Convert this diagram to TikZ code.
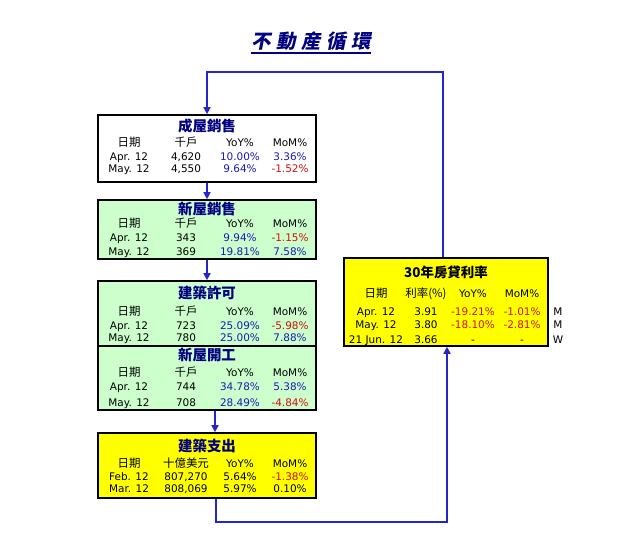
\documentclass[tikz,border=0pt]{standalone}
\usepackage{fontspec}
\setmainfont{DejaVu Sans}
\newfontfamily\cjk{Noto Sans CJK TC}
\newfontfamily\headcjk{Noto Sans CJK TC}[FakeSlant=0.2, LetterSpace=28]
\usetikzlibrary{arrows.meta}

\definecolor{navy}{HTML}{000080}
\definecolor{flowblue}{HTML}{2626C8}
\definecolor{posblue}{HTML}{1A1AB4}
\definecolor{negred}{HTML}{D01010}
\definecolor{paleg}{HTML}{CCFFCC}
\definecolor{yel}{HTML}{FFFF00}

\begin{document}
\begin{tikzpicture}[
    x=1bp, y=-1bp,
    box/.style={rectangle, draw=black, line width=1.6bp, minimum width=218bp, inner sep=0pt},
    ttl/.style={anchor=base, inner sep=0pt, text=navy, font=\cjk\bfseries\fontsize{14.5}{14.5}\selectfont},
    hdc/.style={anchor=base, inner sep=0pt, font=\cjk\fontsize{11.5}{11.5}\selectfont},
    cell/.style={anchor=base, inner sep=0pt, font=\fontsize{10.5}{10.5}\selectfont},
    upval/.style={cell, text=posblue},
    downval/.style={cell, text=negred},
    link/.style={draw=flowblue, line width=1.6bp},
    flow/.style={link, -{Triangle[length=7bp,width=7bp]}}
]
\useasboundingbox (0,0) rectangle (619,560);

% Title
\node[anchor=base, inner sep=0pt, text=navy, font=\headcjk\bfseries\fontsize{19.5}{19.5}\selectfont] (title) at (311,49) {不動産循環};
\draw[navy, line width=1.4bp] ([yshift=-1.5bp]title.south west) -- ([yshift=-1.5bp]title.south east);

% Boxes
\node[box, fill=white, minimum height=67bp] (sold) at (207,148.5) {};
\node[box, fill=paleg, minimum height=59bp] (newsold) at (207,229.5) {};
\node[box, fill=paleg, minimum height=65bp] (permit) at (207,313.5) {};
\node[box, fill=paleg, minimum height=64bp] (starts) at (207,378) {};
\node[box, fill=yel, minimum height=65bp] (spend) at (207,465.5) {};
\node[box, fill=yel, minimum width=204bp, minimum height=88bp] (rate) at (446,302) {};

% Box titles
\node[ttl] (soldt) at (207,132) {成屋銷售};
\node[ttl] (newsoldt) at (207,215) {新屋銷售};
\node[ttl] (permitt) at (207,298) {建築許可};
\node[ttl] (startst) at (207,360) {新屋開工};
\node[ttl] (spendt) at (207,451) {建築支出};
\node[ttl, text=black, font=\cjk\bfseries\fontsize{13.5}{13.5}\selectfont] (ratet) at (446,277) {30年房貸利率};

% Column heads
\foreach \b/\y/\u in {sold/147/千戶, newsold/228/千戶, permit/315/千戶, starts/376/千戶, spend/467/十億美元} {
    \node[hdc] (\b h1) at (129,\y) {日期};
    \node[hdc] (\b h2) at (186,\y) {\u};
    \node[cell] (\b h3) at (240,\y) {YoY\%};
    \node[cell] (\b h4) at (290,\y) {MoM\%};
}
\node[hdc] (rateh1) at (376,297) {日期};
\node[hdc] (rateh2) at (426,297) {利率(\%)};
\node[cell] (rateh3) at (473,297) {YoY\%};
\node[cell] (rateh4) at (522,297) {MoM\%};

% Existing home sales
\node[cell] (sold11) at (129,161) {Apr. 12};
\node[cell] (sold12) at (186,161) {4,620};
\node[upval] (sold13) at (240,161) {10.00\%};
\node[upval] (sold14) at (290,161) {3.36\%};
\node[cell] (sold21) at (129,173) {May. 12};
\node[cell] (sold22) at (186,173) {4,550};
\node[upval] (sold23) at (240,173) {9.64\%};
\node[downval] (sold24) at (290,173) {-1.52\%};

% New home sales
\node[cell] (newsold11) at (129,242) {Apr. 12};
\node[cell] (newsold12) at (186,242) {343};
\node[upval] (newsold13) at (240,242) {9.94\%};
\node[downval] (newsold14) at (290,242) {-1.15\%};
\node[cell] (newsold21) at (129,255) {May. 12};
\node[cell] (newsold22) at (186,255) {369};
\node[upval] (newsold23) at (240,255) {19.81\%};
\node[upval] (newsold24) at (290,255) {7.58\%};

% Building permits
\node[cell] (permit11) at (129,329) {Apr. 12};
\node[cell] (permit12) at (186,329) {723};
\node[upval] (permit13) at (240,329) {25.09\%};
\node[downval] (permit14) at (290,329) {-5.98\%};
\node[cell] (permit21) at (129,341) {May. 12};
\node[cell] (permit22) at (186,341) {780};
\node[upval] (permit23) at (240,341) {25.00\%};
\node[upval] (permit24) at (290,341) {7.88\%};

% Housing starts
\node[cell] (starts11) at (129,390) {Apr. 12};
\node[cell] (starts12) at (186,390) {744};
\node[upval] (starts13) at (240,390) {34.78\%};
\node[upval] (starts14) at (290,390) {5.38\%};
\node[cell] (starts21) at (129,406) {May. 12};
\node[cell] (starts22) at (186,406) {708};
\node[upval] (starts23) at (240,406) {28.49\%};
\node[downval] (starts24) at (290,406) {-4.84\%};

% Construction spending
\node[cell] (spend11) at (129,480) {Feb. 12};
\node[cell] (spend12) at (186,480) {807,270};
\node[cell] (spend13) at (240,480) {5.64\%};
\node[downval] (spend14) at (290,480) {-1.38\%};
\node[cell] (spend21) at (129,492) {Mar. 12};
\node[cell] (spend22) at (186,492) {808,069};
\node[cell] (spend23) at (240,492) {5.97\%};
\node[cell] (spend24) at (290,492) {0.10\%};

% Mortgage rate
\node[cell] (rate11) at (376,315) {Apr. 12};
\node[cell] (rate12) at (426,315) {3.91};
\node[downval] (rate13) at (473,315) {-19.21\%};
\node[downval] (rate14) at (522,315) {-1.01\%};
\node[cell] (rate15) at (558,315) {M};
\node[cell] (rate21) at (376,328) {May. 12};
\node[cell] (rate22) at (426,328) {3.80};
\node[downval] (rate23) at (473,328) {-18.10\%};
\node[downval] (rate24) at (522,328) {-2.81\%};
\node[cell] (rate25) at (558,328) {M};
\node[cell] (rate31) at (376,343) {21 Jun. 12};
\node[cell] (rate32) at (426,343) {3.66};
\node[cell] (rate33) at (473,343) {-};
\node[cell] (rate34) at (522,343) {-};
\node[cell] (rate35) at (558,343) {W};

% Connectors
\coordinate (tl) at (207,72);
\coordinate (tr) at (443,72);
\coordinate (bl) at (216,522);
\coordinate (br) at (447,522);
\draw[flow] (rate.north -| tr) -- (tr) -- (tl) -- (sold.north);
\draw[flow] (sold) -- (newsold);
\draw[flow] (newsold) -- (permit);
\draw[flow] ([xshift=8bp]starts.south) -- ([xshift=8bp]spend.north);
\draw[flow] (spend.south -| bl) -- (bl) -- (br) -- (rate.south -| br);

\end{tikzpicture}
\end{document}
